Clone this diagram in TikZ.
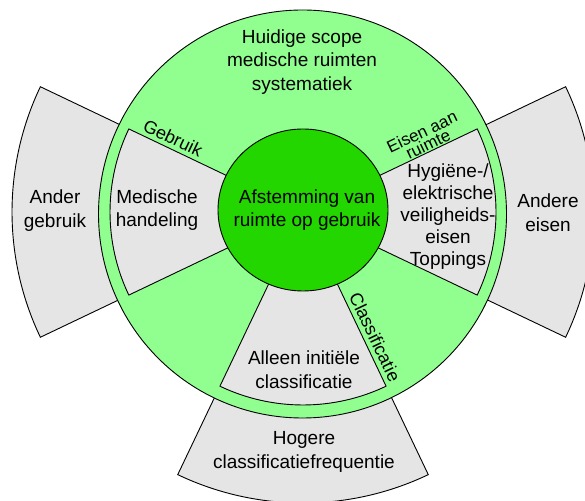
\documentclass[tikz,border=0pt]{standalone}
\usepackage{fontspec}
\setmainfont{Liberation Sans}
\definecolor{lgreen}{RGB}{144,255,144}
\definecolor{dgreen}{RGB}{36,214,0}
\definecolor{sgray}{RGB}{229,229,229}
\begin{document}
\begin{tikzpicture}[x=1pt,y=1pt,
  sector/.style={draw=black, line width=0.9pt, fill=sgray},
  disc/.style={draw=black, line width=0.9pt},
  lbl/.style={font=\fontsize{19}{23.5}\selectfont, align=center, text=black, inner sep=0pt},
  edgelbl/.style={font=\fontsize{18}{14}\selectfont, align=center, inner sep=0pt}]
\useasboundingbox (0,0) rectangle (585,500);
\clip (0,0) rectangle (585,500);
% outer sectors
\begin{scope}[shift={(303,288)}]
\foreach \a in {180,0,270} {
  \draw[sector] ({\a-25.5}:180) arc[start angle={\a-25.5}, end angle={\a+25.5}, radius=180]
    -- ({\a+25.5}:291) arc[start angle={\a+25.5}, end angle={\a-25.5}, radius=291] -- cycle;
}
\end{scope}
% big circle
\draw[disc, fill=lgreen] (302.5,286) circle[radius=204];
% inner sectors
\begin{scope}[shift={(303,288)}]
\foreach \a in {180,0,270} {
  \draw[sector] ({\a-25.5}:60) arc[start angle={\a-25.5}, end angle={\a+25.5}, radius=60]
    -- ({\a+25.5}:193) arc[start angle={\a+25.5}, end angle={\a-25.5}, radius=193] -- cycle;
}
\end{scope}
% inner circle
\draw[disc, fill=dgreen] (303,290) ellipse[x radius=85, y radius=81];
% texts
\node[lbl] (scope) at (302,438) {Huidige scope\\medische ruimten\\systematiek};
\node[lbl] (core) at (307,290) {Afstemming van\\ruimte op gebruik};
\node[lbl] (med) at (157,290) {Medische\\handeling};
\node[lbl, font=\fontsize{19}{22}\selectfont] (hyg) at (448,283.5) {Hygiëne-/\\elektrische\\veiligheids-\\eisen\\Toppings};
\node[lbl] (init) at (304,130.5) {Alleen initiële\\classificatie};
\node[lbl] (ander) at (55,289.5) {Ander\\gebruik};
\node[lbl] (andere) at (548,287.5) {Andere\\eisen};
\node[lbl] (hog) at (304,48) {Hogere\\classificatiefrequentie};
\node[edgelbl, rotate=-25.5] (geb) at (173,362) {Gebruik};
\node[edgelbl, rotate=25.5, font=\fontsize{17}{14}\selectfont] (eisen) at (425,362) {Eisen aan\\ruimte};
\node[edgelbl, rotate=-64.5] (class) at (375,163) {Classificatie};
\end{tikzpicture}
\end{document}
